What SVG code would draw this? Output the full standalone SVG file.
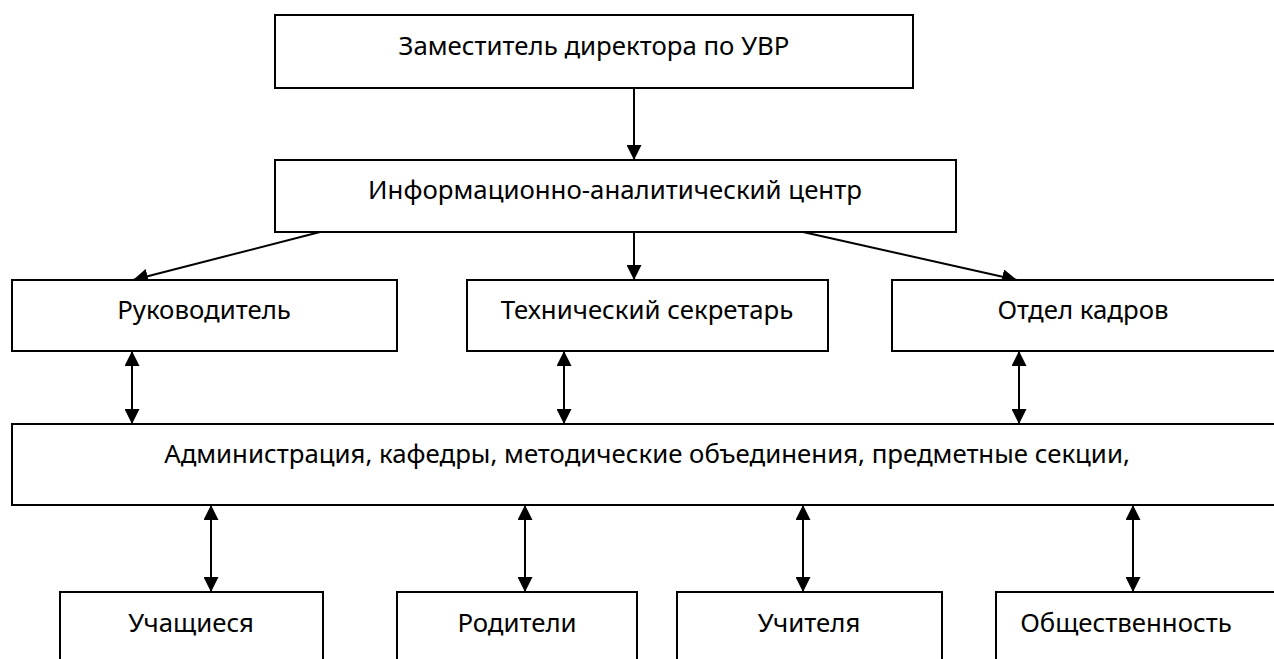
<svg xmlns="http://www.w3.org/2000/svg" width="1274" height="659" viewBox="0 0 1274 659">
<style>
.box{fill:#fff;stroke:#000;stroke-width:2}
.lbl{font-family:"Noto Sans","Open Sans","DejaVu Sans",sans-serif;font-size:25.8px;fill:#000;text-anchor:middle}
.con{stroke:#000;stroke-width:2;fill:none}
</style>
<defs>
<marker id="ah" viewBox="0 0 15 15" refX="15" refY="7.5" markerWidth="15" markerHeight="15" markerUnits="userSpaceOnUse" orient="auto-start-reverse">
<path d="M0,0 L15,7.5 L0,15 Z" fill="#000"/>
</marker>
</defs>
<rect width="1274" height="659" fill="#fff"/>
<g id="connectors">
<line class="con" x1="634" y1="88" x2="634" y2="160" marker-end="url(#ah)"/>
<line class="con" x1="634" y1="232" x2="634" y2="280" marker-end="url(#ah)"/>
<line class="con" x1="320" y1="232" x2="133" y2="280" marker-end="url(#ah)"/>
<line class="con" x1="803" y1="232" x2="1017" y2="280" marker-end="url(#ah)"/>
<line class="con" x1="132" y1="351" x2="132" y2="424" marker-start="url(#ah)" marker-end="url(#ah)"/>
<line class="con" x1="564" y1="351" x2="564" y2="424" marker-start="url(#ah)" marker-end="url(#ah)"/>
<line class="con" x1="1019" y1="351" x2="1019" y2="424" marker-start="url(#ah)" marker-end="url(#ah)"/>
<line class="con" x1="211" y1="505" x2="211" y2="592" marker-start="url(#ah)" marker-end="url(#ah)"/>
<line class="con" x1="525" y1="505" x2="525" y2="592" marker-start="url(#ah)" marker-end="url(#ah)"/>
<line class="con" x1="803" y1="505" x2="803" y2="592" marker-start="url(#ah)" marker-end="url(#ah)"/>
<line class="con" x1="1133" y1="505" x2="1133" y2="592" marker-start="url(#ah)" marker-end="url(#ah)"/>
</g>
<g id="n-deputy">
<rect class="box" x="275" y="15" width="638" height="73"/>
<text class="lbl" x="594" y="55">Заместитель директора по УВР</text>
</g>
<g id="n-center">
<rect class="box" x="275" y="160" width="681" height="72"/>
<text class="lbl" x="615" y="199">Информационно-аналитический центр</text>
</g>
<g id="n-head">
<rect class="box" x="12" y="280" width="385" height="71"/>
<text class="lbl" x="204" y="319">Руководитель</text>
</g>
<g id="n-secretary">
<rect class="box" x="467" y="280" width="361" height="71"/>
<text class="lbl" x="647" y="319">Технический секретарь</text>
</g>
<g id="n-hr">
<rect class="box" x="892" y="280" width="400" height="71"/>
<text class="lbl" x="1083" y="319">Отдел кадров</text>
</g>
<g id="n-admin">
<rect class="box" x="12" y="424" width="1280" height="81"/>
<text class="lbl" x="647" y="463">Администрация, кафедры, методические объединения, предметные секции,</text>
</g>
<g id="n-students">
<rect class="box" x="60" y="592" width="263" height="80"/>
<text class="lbl" x="191" y="632">Учащиеся</text>
</g>
<g id="n-parents">
<rect class="box" x="397" y="592" width="240" height="80"/>
<text class="lbl" x="517" y="632">Родители</text>
</g>
<g id="n-teachers">
<rect class="box" x="677" y="592" width="265" height="80"/>
<text class="lbl" x="809" y="632">Учителя</text>
</g>
<g id="n-public">
<rect class="box" x="996" y="592" width="300" height="80"/>
<text class="lbl" x="1126" y="632">Общественность</text>
</g>
</svg>
